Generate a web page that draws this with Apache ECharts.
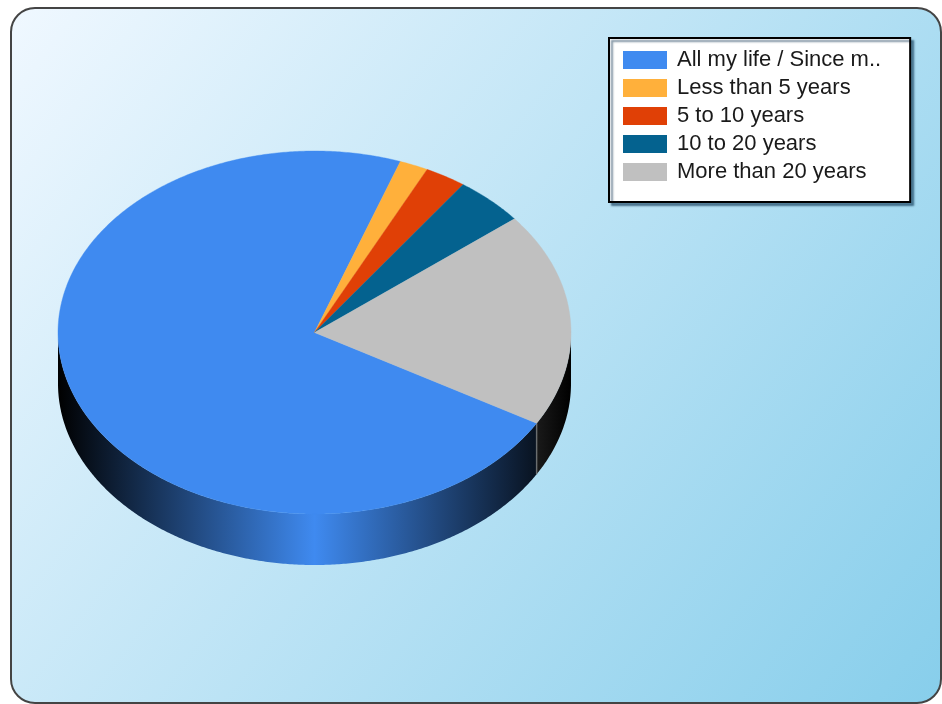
<!DOCTYPE html>
<html>
<head>
<meta charset="utf-8">
<style>html,body{margin:0;padding:0;background:#fff}#c{width:942px;height:704px;filter:blur(0.5px)}</style>
<script src="https://cdn.jsdelivr.net/npm/echarts@6/dist/echarts.min.js"></script>
</head>
<body>
<div id="c"></div>
<script>
const categories = ['All my life / Since m..', 'Less than 5 years', '5 to 10 years', '10 to 20 years', 'More than 20 years'];
const values = [72.1, 1.8, 2.6, 4.4, 19.1];
const colors = ['#3f8af0', '#ffb03b', '#e04006', '#04628f', '#c0c0c0'];

const START_DEG = 120, CX = 314.5, CY = 332.5, RX = 256.5, RY = 181.5, DEPTH = 51;
const total = values.reduce((a, b) => a + b, 0);

function pt(deg, dy) {
  const t = deg * Math.PI / 180;
  return [CX + RX * Math.sin(t), CY - RY * Math.cos(t) + (dy || 0)];
}
function arc(a, b, dy) {
  const n = Math.max(2, Math.ceil(Math.abs(b - a) * 2));
  const out = [];
  for (let i = 0; i <= n; i++) out.push(pt(a + (b - a) * i / n, dy));
  return out;
}
function makeRender(idx) {
  return function () {
    const before = values.slice(0, idx).reduce((a, b) => a + b, 0);
    const a = START_DEG + before / total * 360;
    const b = a + values[idx] / total * 360;
    const children = [];
    // Visible wall: the part of the rim in the front half (90..270 deg clockwise from top)
    const sa = Math.max(a, 90), sb = Math.min(b, 270);
    const sa2 = Math.max(a - 360, 90), sb2 = Math.min(b - 360, 270);
    [[sa, sb], [sa2, sb2]].forEach(([p, q]) => {
      if (q > p) {
        children.push({
          type: 'polygon',
          shape: { points: arc(p, q, 0).concat(arc(q, p, DEPTH)) },
          style: {
            fill: {
              type: 'linear', global: true, x: CX - RX, y: 0, x2: CX + RX, y2: 0,
              colorStops: [
                { offset: 0, color: '#000' },
                { offset: 0.5, color: colors[idx] },
                { offset: 1, color: '#000' }
              ]
            }
          }
        });
      }
    });
    if (a <= 270 && a >= 90 && idx === 0) {
      const e0 = pt(a, 0), e1 = pt(a, DEPTH);
      children.push({
        type: 'line', z2: 5,
        shape: { x1: e0[0], y1: e0[1], x2: e1[0], y2: e1[1] },
        style: { stroke: 'rgba(120,120,120,0.8)', lineWidth: 1.5 }
      });
    }
    children.push({
      type: 'polygon', z2: 10,
      shape: { points: [[CX, CY]].concat(arc(a, b, 0)) },
      style: { fill: colors[idx], stroke: colors[idx], lineWidth: 0.4 }
    });
    return { type: 'group', children };
  };
}

const chart = echarts.init(document.getElementById('c'), null, { renderer: 'canvas' });
chart.setOption({
  animation: false,
  graphic: [{
    type: 'rect', z: -10, silent: true,
    shape: { x: 11, y: 8, width: 930, height: 695, r: 24 },
    style: {
      fill: {
        type: 'linear', x: 0, y: 0, x2: 1, y2: 1,
        colorStops: [{ offset: 0, color: '#f0f8ff' }, { offset: 1, color: '#87ceeb' }]
      },
      stroke: '#444', lineWidth: 2
    }
  }],
  legend: {
    orient: 'vertical', left: 609, top: 38,
    padding: [11, 29, 19, 14],
    itemWidth: 44, itemHeight: 18, itemGap: 6,
    icon: 'rect',
    data: categories,
    backgroundColor: '#fff', borderColor: '#000', borderWidth: 2,
    shadowColor: 'rgba(0,40,70,0.5)', shadowBlur: 2, shadowOffsetX: 3, shadowOffsetY: 3,
    selectedMode: false,
    textStyle: { fontFamily: 'Liberation Sans', fontSize: 22, lineHeight: 22, color: '#1a1a1a', padding: [0, 0, 0, 5] }
  },
  tooltip: { show: false },
  series: categories.map((name, i) => ({
    type: 'custom', name, coordinateSystem: 'none', silent: true,
    itemStyle: { color: colors[i] },
    data: [values[i]],
    renderItem: makeRender(i)
  }))
});
</script>
</body>
</html>
